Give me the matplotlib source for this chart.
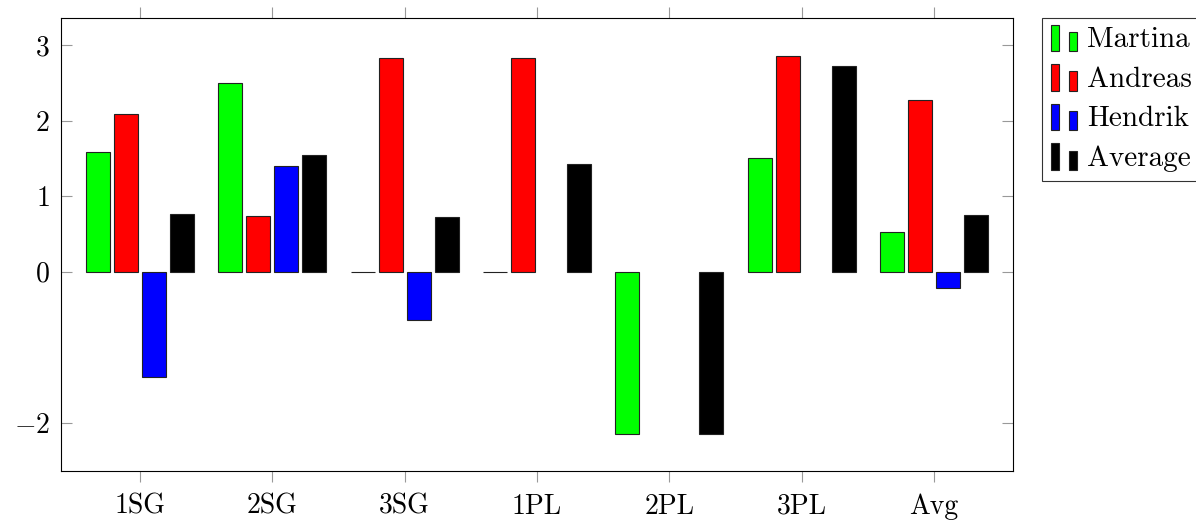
import numpy as np
import matplotlib
matplotlib.use('Agg')
import matplotlib.pyplot as plt
from matplotlib.patches import Patch, Rectangle
from matplotlib.legend_handler import HandlerBase

plt.rcParams['font.family'] = 'cmr10'
plt.rcParams['mathtext.fontset'] = 'cm'
plt.rcParams['axes.formatter.use_mathtext'] = True

# values
categories = ['1SG', '2SG', '3SG', '1PL', '2PL', '3PL', 'Avg']
martina = [1.59, 2.50, 0.0, 0.0, -2.15, 1.51, 0.52]
andreas = [2.09, 0.74, 2.83, 2.83, np.nan, 2.85, 2.28]
hendrik = [-1.40, 1.40, -0.64, np.nan, np.nan, np.nan, -0.21]
average = [0.77, 1.55, 0.73, 1.43, -2.15, 2.73, 0.75]

series = [('Martina', martina, '#00ff00'),
          ('Andreas', andreas, '#ff0000'),
          ('Hendrik', hendrik, '#0000ff'),
          ('Average', average, '#000000')]


class TwoBarHandler(HandlerBase):
    """pgfplots style legend icon: a tall bar and a shorter bar"""
    def create_artists(self, legend, orig_handle, xdescent, ydescent,
                       width, height, fontsize, trans):
        fc = orig_handle.get_facecolor()
        bw = width * 0.28
        r1 = Rectangle((-xdescent, -ydescent - height * 0.2), bw, height * 1.3,
                       facecolor=fc, edgecolor='#222222', lw=0.8, transform=trans)
        r2 = Rectangle((-xdescent + width * 0.62, -ydescent - height * 0.2), bw, height * 0.95,
                       facecolor=fc, edgecolor='#222222', lw=0.8, transform=trans)
        return [r1, r2]


fig = plt.figure(figsize=(11.96, 5.23), dpi=100)
ax = fig.add_axes([0.051, 0.0994, 0.796, 0.8662])

x = np.arange(len(categories))
step = 0.2116
for i, (name, vals, color) in enumerate(series):
    ax.bar(x + (i - 1.5) * step, vals, width=0.181, color=color,
           edgecolor='#222222', linewidth=0.8, label=name)

ax.set_xlim(-0.597, 6.597)
ax.set_ylim(-2.64, 3.36)
ax.set_xticks(x)
ax.set_xticklabels(categories)
ax.set_yticks([-2, 0, 1, 2, 3])
ax.tick_params(axis='x', direction='out', top=True, bottom=True, length=8,
               color='#999999', labelsize=20, pad=8)
ax.tick_params(axis='y', direction='in', left=True, right=True, length=8,
               color='#999999', labelsize=20, pad=8)

handles = [Patch(facecolor=c) for _, _, c in series]
labels = [n for n, _, _ in series]
leg = fig.legend(handles, labels, handler_map={Patch: TwoBarHandler()},
                 loc='upper left', bbox_to_anchor=(0.8712, 0.9656),
                 fontsize=21, frameon=True, fancybox=False, edgecolor='black',
                 handlelength=1.0, handletextpad=0.25, borderpad=0.3,
                 labelspacing=0.45, borderaxespad=0)
leg.get_frame().set_linewidth(0.8)

fig.savefig('out.png', dpi=100)
